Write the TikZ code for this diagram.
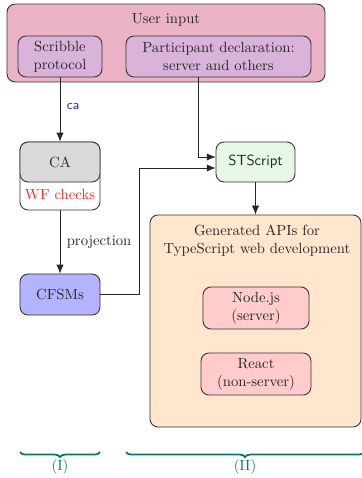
\documentclass[tikz,border=0pt]{standalone}
\usetikzlibrary{arrows.meta,decorations.pathreplacing}
\definecolor{cUser}{HTML}{ECB3C6}
\definecolor{cInner}{HTML}{D9B3D9}
\definecolor{cCA}{HTML}{D9D9D9}
\definecolor{cST}{HTML}{E6F7E6}
\definecolor{cCF}{HTML}{B3B3FF}
\definecolor{cGen}{HTML}{FFE6CC}
\definecolor{cTgt}{HTML}{FFCCCC}
\definecolor{cBrace}{HTML}{00796B}
\definecolor{cLab}{HTML}{30309A}
\begin{document}
\begin{tikzpicture}[x=0.68pt,y=-0.68pt,
 box/.style={draw=black!80, line width=0.6pt, rounded corners=5.5pt, inner sep=0pt, align=center, text=black!85},
 arr/.style={draw=black!85, line width=0.6pt, -{Latex[length=6pt,width=5pt]}},
 brc/.style={draw=cBrace, line width=1.2pt, decorate, decoration={brace,mirror,amplitude=3.5pt}},
 blab/.style={text=cBrace, inner sep=0pt}
]
\useasboundingbox (0,0) rectangle (361,478);
% user input
\node[box, fill=cUser, minimum width=216.2pt, minimum height=53pt] (userin) at (166,43) {};
\node[text=black!85, inner sep=0pt] (usertxt) at (166,20) {User input};
\node[box, fill=cInner, minimum width=57.1pt, minimum height=27.9pt] (scribble) at (60,56.5) {Scribble\\protocol};
\node[box, fill=cInner, minimum width=125.8pt, minimum height=27.9pt] (partic) at (218.5,56.5) {Participant declaration:\\server and others};
% CA
\node[box, fill=white, minimum width=54.4pt, minimum height=46.2pt] (caouter) at (60,176) {};
\node[box, fill=cCA, minimum width=54.4pt, minimum height=27.2pt] (ca) at (60,162) {CA};
\node[text=red!85, inner sep=0pt] (wf) at (60,195) {WF checks};
% STScript
\node[box, fill=cST, minimum width=53.7pt, minimum height=27.2pt, font=\sffamily] (st) at (255.5,162) {STScript};
% CFSMs
\node[box, fill=cCF, minimum width=54.4pt, minimum height=27.9pt] (cfsms) at (60,294.5) {CFSMs};
% generated
\node[box, fill=cGen, minimum width=143.5pt, minimum height=144.2pt] (gen) at (255.5,321) {};
\node[text=black!85, inner sep=0pt, align=center] (gentxt) at (257,240.5) {Generated APIs for\\TypeScript web development};
\node[box, fill=cTgt, minimum width=72.1pt, minimum height=28.6pt] (nodejs) at (256,308) {Node.js\\(server)};
\node[box, fill=cTgt, minimum width=74.8pt, minimum height=28.6pt] (react) at (256,374) {React\\(non-server)};
% connectors
\coordinate (pbend) at (198,157);
\coordinate (cbend) at (139,168);
\draw[arr] (scribble.south) -- node[right, xshift=1pt, text=cLab, font=\sffamily\small, pos=0.45] {ca} (ca.north);
\draw[arr] (partic.south -| pbend) |- (st.west |- pbend);
\draw[arr] (cfsms.east) -| (cbend) -- (st.west |- cbend);
\draw[arr] (st.south) -- (gen.north);
\draw[arr] (caouter.south) -- node[right, xshift=1pt, text=black!85, pos=0.5] {projection} (cfsms.north);
% braces
\coordinate (b1a) at (20,452);
\coordinate (b1b) at (100,452);
\coordinate (b2a) at (126,452);
\coordinate (b2b) at (364,452);
\draw[brc] (b1a) -- (b1b);
\draw[brc] (b2a) -- (b2b);
\node[blab] (l1) at (60,467) {(I)};
\node[blab] (l2) at (245,467) {(II)};
\end{tikzpicture}
\end{document}
